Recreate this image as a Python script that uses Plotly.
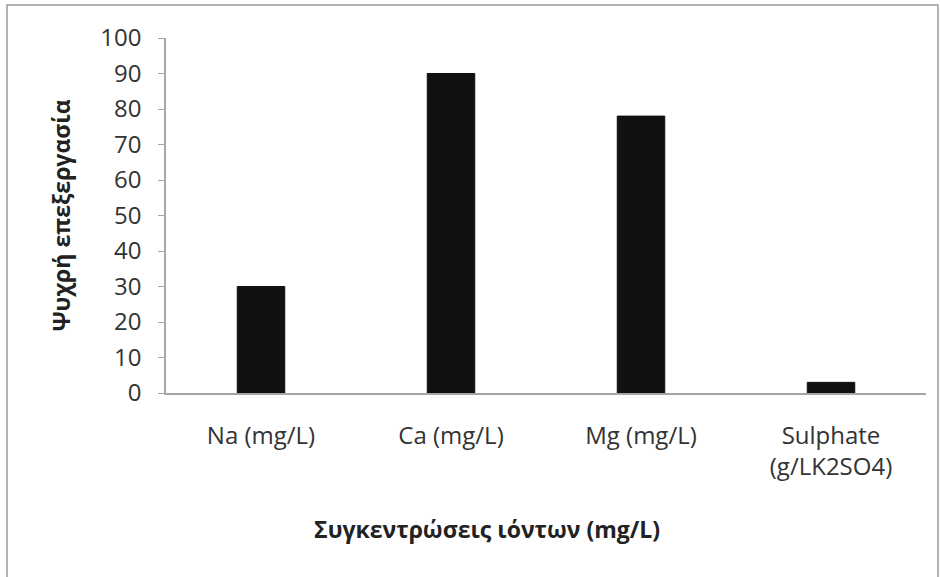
import plotly.graph_objects as go

categories = ["Na (mg/L)", "Ca (mg/L)", "Mg (mg/L)", "Sulphate<br>(g/LK2SO4)"]
values = [30, 90, 78, 3]
y_ticks = [0, 10, 20, 30, 40, 50, 60, 70, 80, 90, 100]

W, H = 940, 577
L, R, T, B = 166, 14, 38, 184
pw, ph = W - L - R, H - T - B

def px_x(p):
    return (p - L) / pw

def px_y(p):
    return (H - B - p) / ph

fig = go.Figure()
fig.add_trace(go.Bar(
    x=categories, y=values,
    marker=dict(color="#111111", line=dict(color="#111111", width=1)),
    width=0.25,
))

font_main = "Open Sans, Noto Sans, DejaVu Sans, sans-serif"

fig.update_layout(
    width=W, height=H,
    margin=dict(l=L, r=R, t=T, b=B),
    paper_bgcolor="white", plot_bgcolor="white",
    showlegend=False,
    font=dict(family=font_main, size=24, color="#333333"),
    xaxis=dict(
        showline=True, linecolor="#a6a6a6", linewidth=1.5,
        ticks="", showgrid=False, zeroline=False,
        tickfont=dict(size=24, color="#333333"),
        ticklabelstandoff=20,
    ),
    yaxis=dict(
        range=[0, 100], tickvals=y_ticks,
        showline=True, linecolor="#a6a6a6", linewidth=1.5,
        ticks="outside", ticklen=6, tickcolor="#a6a6a6",
        showgrid=False, zeroline=False,
        tickfont=dict(size=24, color="#333333"),
        ticklabelstandoff=12,
        title=dict(text="<b>Ψυχρή επεξεργασία</b>",
                   font=dict(size=23, color="#222222"), standoff=23),
    ),
)

fig.add_annotation(xref="paper", yref="paper", x=px_x(487), y=px_y(529),
                   xanchor="center", yanchor="middle", showarrow=False,
                   text="<b>Συγκεντρώσεις ιόντων (mg/L)</b>",
                   font=dict(size=23, color="#222222", family=font_main))

fig.add_shape(type="rect", xref="paper", yref="paper",
              x0=px_x(7), x1=px_x(938), y0=px_y(600), y1=px_y(5),
              line=dict(color="#9a9a9a", width=1.5), fillcolor="rgba(0,0,0,0)",
              layer="below")

fig.write_html("out.html")
